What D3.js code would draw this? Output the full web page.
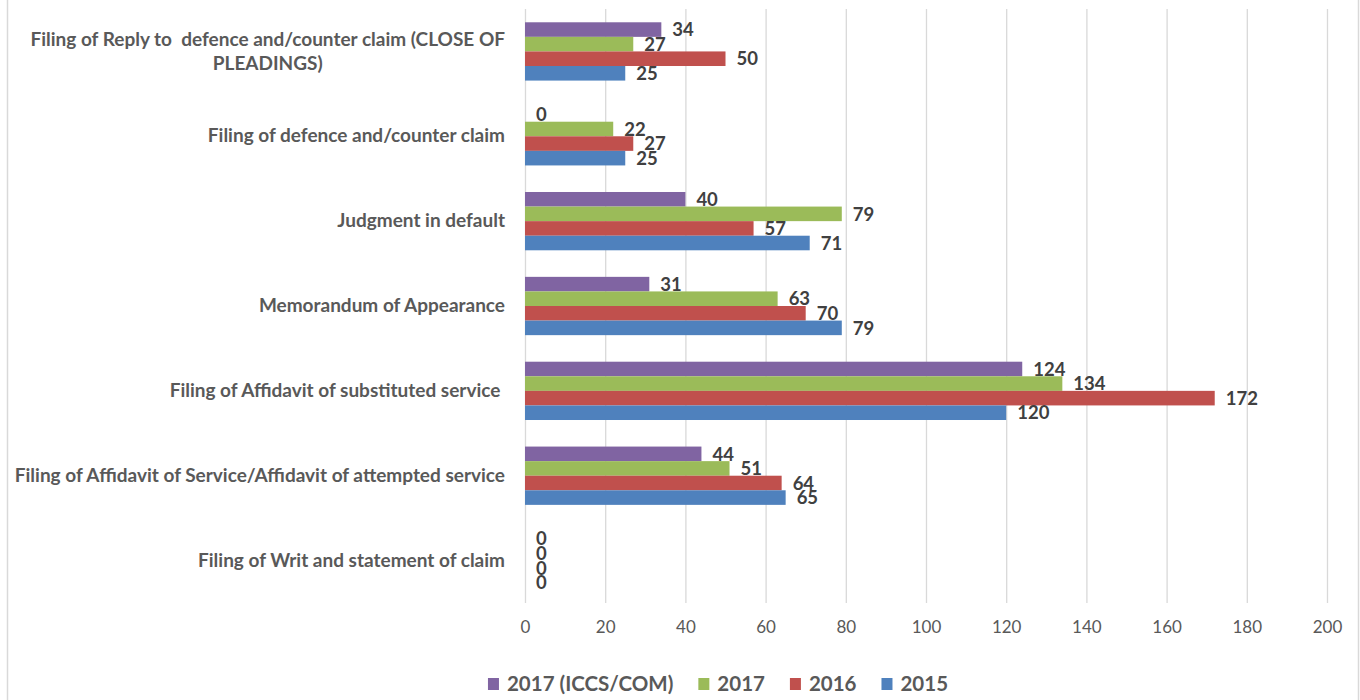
<!DOCTYPE html>
<html><head><meta charset="utf-8">
<script src="https://cdn.jsdelivr.net/npm/d3@7"></script>
<style>body{margin:0;background:#fff;} svg{display:block}</style>
</head><body><svg id="c" width="1360" height="700"></svg>
<script>
const categories = [
  "Filing of Reply to  defence and/counter claim (CLOSE OF PLEADINGS)",
  "Filing of defence and/counter claim",
  "Judgment in default",
  "Memorandum of Appearance",
  "Filing of Affidavit of substituted service ",
  "Filing of Affidavit of Service/Affidavit of attempted service",
  "Filing of Writ and statement of claim"
];
const seriesNames = ["2017 (ICCS/COM)", "2017", "2016", "2015"];
const seriesColors = ["#8064A2", "#9BBB59", "#C0504D", "#4F81BD"];
const valsICCS = [34, 0, 40, 31, 124, 44, 0];
const vals2017 = [27, 22, 79, 63, 134, 51, 0];
const vals2016 = [50, 27, 57, 70, 172, 64, 0];
const vals2015 = [25, 25, 71, 79, 120, 65, 0];
const xTicks = [0, 20, 40, 60, 80, 100, 120, 140, 160, 180, 200];

const seriesValues = [valsICCS, vals2017, vals2016, vals2015];
const svg = d3.select("#c");
const FONT = "Lato, 'Open Sans', sans-serif";
const L = 525, R = 1327, T = 9, B = 603;

// frame
svg.append("rect").attr("x", 7.5).attr("y", -2).attr("width", 1351).attr("height", 704)
  .attr("fill", "none").attr("stroke", "#d9d9d9").attr("stroke-width", 1.5);

const x = d3.scaleLinear().domain([0, 200]).range([L, R]);
const y = d3.scaleBand().domain(categories).range([T, B]).paddingInner(0.313).paddingOuter(0.1565);
const ys = d3.scaleBand().domain(seriesNames).range([0, y.bandwidth()]);

// gridlines
const grid = svg.append("g").attr("transform", `translate(0,${B})`)
  .call(d3.axisBottom(x).tickValues(xTicks).tickSize(-(B - T)).tickFormat(""));
grid.select(".domain").remove();
grid.selectAll("line").attr("stroke", "#d9d9d9").attr("stroke-width", 1.3);

// x tick labels
const xa = svg.append("g").attr("transform", `translate(0,${B})`)
  .call(d3.axisBottom(x).tickValues(xTicks).tickSize(0));
xa.select(".domain").remove();
xa.selectAll("text").attr("y", 24).attr("dy", "0.35em")
  .attr("font-family", FONT).attr("font-size", 17).attr("fill", "#595959");

// bars
const rows = categories.map((c, i) => ({ cat: c, vals: seriesNames.map((s, j) => ({ s, j, v: seriesValues[j][i] })) }));
const groups = svg.append("g").selectAll("g").data(rows).join("g")
  .attr("transform", d => `translate(0,${y(d.cat)})`);
groups.selectAll("rect").data(d => d.vals).join("rect")
  .attr("x", x(0)).attr("y", d => ys(d.s))
  .attr("width", d => x(d.v) - x(0)).attr("height", ys.bandwidth())
  .attr("fill", d => seriesColors[d.j]);
groups.selectAll("text").data(d => d.vals).join("text")
  .attr("x", d => x(d.v) + 11).attr("y", d => ys(d.s) + ys.bandwidth() / 2).attr("dy", "0.36em")
  .attr("font-family", FONT).attr("font-weight", "bold").attr("font-size", 18.5).attr("fill", "#404040")
  .text(d => d.v);

// category labels
const ya = svg.append("g").attr("transform", `translate(${L},0)`)
  .call(d3.axisLeft(y).tickSize(0).tickPadding(20));
ya.select(".domain").remove();
ya.selectAll("text").attr("font-family", FONT).attr("font-weight", "bold").attr("font-size", 19)
  .attr("fill", "#595959").style("white-space", "pre");
const maxW = 505;
ya.selectAll("text").each(function (d) {
  const t = d3.select(this);
  if (this.getComputedTextLength() <= maxW) return;
  const words = d.split(" ");
  const lines = [];
  let cur = "";
  words.forEach(w => {
    const test = cur === "" ? w : cur + " " + w;
    t.text(test);
    if (this.getComputedTextLength() > maxW && cur !== "") { lines.push(cur); cur = w; }
    else cur = test;
  });
  lines.push(cur);
  t.text(null);
  const widths = lines.map(l => { t.text(l); return this.getComputedTextLength(); });
  t.text(null);
  const wmax = Math.max(...widths);
  const lh = 24;
  lines.forEach((l, i) => {
    t.append("tspan").attr("x", -20 - (wmax - widths[i]) / 2)
      .attr("dy", i === 0 ? (0.32 - (lines.length - 1) / 2 * lh / 19) + "em" : lh + "px")
      .text(l);
  });
  t.attr("dy", null);
});

// legend
const leg = svg.append("g");
let lx = 0;
seriesNames.forEach((s, j) => {
  const g = leg.append("g");
  g.append("rect").attr("x", 0).attr("y", -6).attr("width", 11).attr("height", 12).attr("fill", seriesColors[j]);
  const tx = g.append("text").attr("x", 19).attr("y", 0).attr("dy", "0.35em")
    .attr("font-family", FONT).attr("font-weight", "bold").attr("font-size", 20.5).attr("fill", "#595959").text(s);
  const w = 19 + tx.node().getComputedTextLength();
  g.attr("transform", `translate(${lx},0)`);
  lx += w + 25;
});
const totalW = lx - 25;
leg.attr("transform", `translate(${718 - totalW / 2},684)`);
</script></body></html>
